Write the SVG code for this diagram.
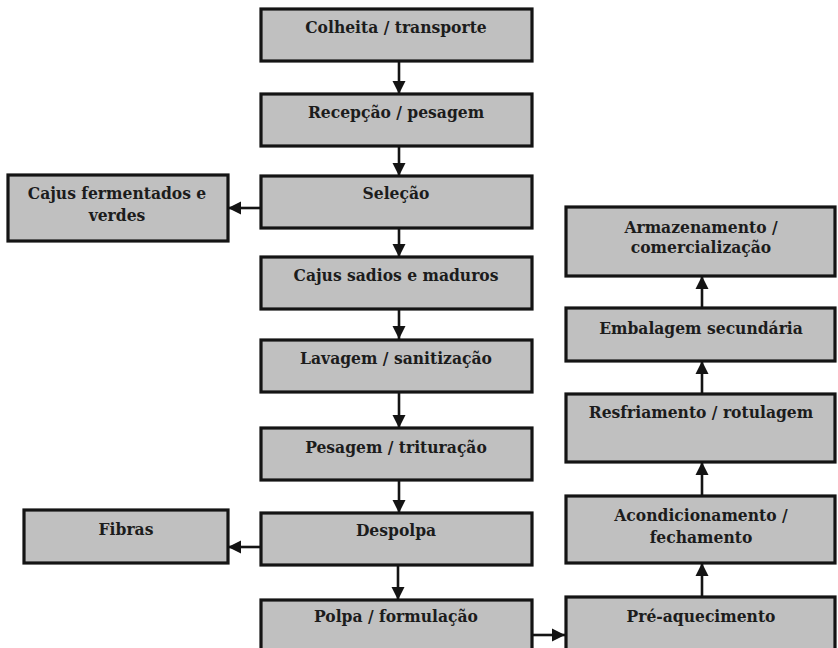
<svg xmlns="http://www.w3.org/2000/svg" width="838" height="648" viewBox="0 0 838 648">
<style>
.box{fill:#c0c0c0;stroke:#141414;stroke-width:3.2}
.t{font-family:"DejaVu Serif Condensed","DejaVu Serif","Liberation Serif",serif;font-stretch:condensed;font-weight:bold;font-size:17.3px;fill:#1c1c1c;text-anchor:middle}
.c{stroke:#141414;stroke-width:2.6;fill:none}
</style>
<defs>
<marker id="ah" markerUnits="userSpaceOnUse" markerWidth="14" markerHeight="14" viewBox="0 0 14 14" refX="13" refY="7" orient="auto">
<path d="M0,0.5 L13,7 L0,13.5 Z" fill="#141414"/>
</marker>
</defs>
<rect width="838" height="648" fill="#ffffff"/>
<g id="connectors">
<line class="c" x1="399" y1="61" x2="399" y2="94" marker-end="url(#ah)"/>
<line class="c" x1="399" y1="146" x2="399" y2="176" marker-end="url(#ah)"/>
<line class="c" x1="399" y1="228" x2="399" y2="257" marker-end="url(#ah)"/>
<line class="c" x1="399" y1="309" x2="399" y2="339" marker-end="url(#ah)"/>
<line class="c" x1="399" y1="392" x2="399" y2="428" marker-end="url(#ah)"/>
<line class="c" x1="399" y1="480" x2="399" y2="513" marker-end="url(#ah)"/>
<line class="c" x1="398" y1="565" x2="398" y2="600" marker-end="url(#ah)"/>
<line class="c" x1="260" y1="208" x2="228" y2="208" marker-end="url(#ah)"/>
<line class="c" x1="260" y1="547" x2="228" y2="547" marker-end="url(#ah)"/>
<line class="c" x1="533" y1="635" x2="565" y2="635" marker-end="url(#ah)"/>
<line class="c" x1="702" y1="597" x2="702" y2="563" marker-end="url(#ah)"/>
<line class="c" x1="702" y1="496" x2="702" y2="462" marker-end="url(#ah)"/>
<line class="c" x1="702" y1="394" x2="702" y2="361" marker-end="url(#ah)"/>
<line class="c" x1="702" y1="308" x2="702" y2="276" marker-end="url(#ah)"/>
</g>
<g id="colheita"><rect class="box" x="261" y="9" width="271" height="52"/><text class="t" x="396" y="33">Colheita / transporte</text></g>
<g id="recepcao"><rect class="box" x="261" y="94" width="271" height="52"/><text class="t" x="396" y="118">Recepção / pesagem</text></g>
<g id="selecao"><rect class="box" x="261" y="176" width="271" height="52"/><text class="t" x="396" y="199">Seleção</text></g>
<g id="cajus-fermentados"><rect class="box" x="8" y="175" width="220" height="66"/><text class="t" x="117" y="199">Cajus fermentados e</text><text class="t" x="117" y="221">verdes</text></g>
<g id="cajus-sadios"><rect class="box" x="261" y="257" width="271" height="52"/><text class="t" x="396" y="281">Cajus sadios e maduros</text></g>
<g id="lavagem"><rect class="box" x="261" y="340" width="271" height="52"/><text class="t" x="396" y="364">Lavagem / sanitização</text></g>
<g id="pesagem"><rect class="box" x="261" y="428" width="271" height="52"/><text class="t" x="396" y="453">Pesagem / trituração</text></g>
<g id="despolpa"><rect class="box" x="261" y="513" width="271" height="52"/><text class="t" x="396" y="536">Despolpa</text></g>
<g id="fibras"><rect class="box" x="24" y="510" width="204" height="53"/><text class="t" x="126" y="535">Fibras</text></g>
<g id="polpa"><rect class="box" x="261" y="600" width="271" height="60"/><text class="t" x="396" y="622">Polpa / formulação</text></g>
<g id="pre-aquecimento"><rect class="box" x="566" y="597" width="269" height="60"/><text class="t" x="701" y="622">Pré-aquecimento</text></g>
<g id="acondicionamento"><rect class="box" x="566" y="496" width="269" height="67"/><text class="t" x="701" y="521">Acondicionamento /</text><text class="t" x="701" y="543">fechamento</text></g>
<g id="resfriamento"><rect class="box" x="566" y="394" width="269" height="68"/><text class="t" x="701" y="418">Resfriamento / rotulagem</text></g>
<g id="embalagem"><rect class="box" x="566" y="308" width="269" height="53"/><text class="t" x="701" y="334">Embalagem secundária</text></g>
<g id="armazenamento"><rect class="box" x="566" y="207" width="269" height="69"/><text class="t" x="701" y="233">Armazenamento /</text><text class="t" x="701" y="253">comercialização</text></g>
</svg>
